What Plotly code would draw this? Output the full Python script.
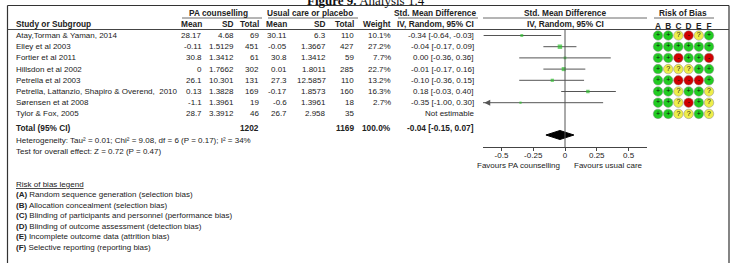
import plotly.graph_objects as go

W, H = 734, 263

# ---------------- data ----------------
studies = ["Atay,Torman & Yaman, 2014", "Elley et al 2003", "Fortier et al 2011",
           "Hillsdon et al 2002", "Petrella et al 2003",
           "Petrella, Lattanzio, Shapiro & Overend,  2010", "Sørensen et at 2008",
           "Tylor & Fox, 2005"]
pa_mean = ["28.17", "-0.11", "30.8", "0", "26.1", "0.13", "-1.1", "28.7"]
pa_sd = ["4.68", "1.5129", "1.3412", "1.7662", "10.301", "1.3828", "1.3961", "3.3912"]
pa_n = [69, 451, 61, 302, 131, 169, 19, 46]
uc_mean = ["30.11", "-0.05", "30.8", "0.01", "27.3", "-0.17", "-0.6", "26.7"]
uc_sd = ["6.3", "1.3667", "1.3412", "1.8011", "12.5857", "1.8573", "1.3961", "2.958"]
uc_n = [110, 427, 59, 285, 110, 160, 18, 35]
weight = [10.1, 27.2, 7.7, 22.7, 13.2, 16.3, 2.7, None]
smd = [-0.34, -0.04, 0.00, -0.01, -0.10, 0.18, -0.35, None]
ci_lo = [-0.64, -0.17, -0.36, -0.17, -0.36, -0.03, -1.00, None]
ci_hi = [-0.03, 0.09, 0.36, 0.16, 0.15, 0.40, 0.30, None]

total_pa_n = 1202
total_uc_n = 1169
total_weight = "100.0%"
total_smd, total_lo, total_hi = -0.04, -0.15, 0.07

heterogeneity = "Heterogeneity: Tau² = 0.01; Chi² = 9.08, df = 6 (P = 0.17); I² = 34%"
overall_test = "Test for overall effect: Z = 0.72 (P = 0.47)"

axis_ticks = [-0.5, -0.25, 0, 0.25, 0.5]
axis_ticklabels = ["-0.5", "-0.25", "0", "0.25", "0.5"]

bias_domains = ["A", "B", "C", "D", "E", "F"]
risk_of_bias = [
    ["+", "+", "?", "-", "?", "+"],
    ["+", "+", "+", "+", "+", "+"],
    ["+", "+", "-", "+", "+", "-"],
    ["+", "?", "?", "?", "+", "+"],
    ["+", "+", "-", "-", "-", "+"],
    ["+", "+", "?", "+", "+", "?"],
    ["+", "+", "?", "-", "+", "?"],
    ["+", "+", "?", "?", "+", "?"],
]
bias_legend = [
    ("A", "Random sequence generation (selection bias)"),
    ("B", "Allocation concealment (selection bias)"),
    ("C", "Blinding of participants and personnel (performance bias)"),
    ("D", "Blinding of outcome assessment (detection bias)"),
    ("E", "Incomplete outcome data (attrition bias)"),
    ("F", "Selective reporting (reporting bias)"),
]

# ---------------- layout helpers ----------------
FONT = "Liberation Sans, Arial, sans-serif"
TXT = "#222222"
ROW0, ROWH = 35.5, 11.2  # pixel centre of first row, row spacing


def px(x):
    return x / W


def py(y):
    return 1 - y / H


def row_of(pix):
    return (pix - ROW0) / ROWH


fig = go.Figure()
ann = []


def text(x, y, s, anchor="left", size=8, bold=False, yref="paper", color=TXT):
    ann.append(dict(x=px(x), y=y if yref == "y" else py(y), xref="paper", yref=yref,
                    text=f"<b>{s}</b>" if bold else s, showarrow=False,
                    xanchor=anchor, yanchor="middle",
                    font=dict(family=FONT, size=size, color=color)))


# ---------------- header ----------------
ann.append(dict(x=px(366), y=py(9.5), xref="paper", yref="paper",
                text="<b>Figure 9.</b> Analysis 1.4", showarrow=False,
                xanchor="center", yanchor="bottom",
                font=dict(family="Liberation Serif, Times New Roman, serif", size=13, color="#111")))

HB = 8.3
text(218, 13, "PA counselling", "center", HB, True)
text(310, 13, "Usual care or placebo", "center", HB, True)
text(435, 13, "Std. Mean Difference", "center", HB, True)
text(565, 13, "Std. Mean Difference", "center", HB, True)
text(683, 13, "Risk of Bias", "center", HB, True)
text(14, 24, "Study or Subgroup", "left", HB, True)
for xx, s in [(204, "Mean"), (236, "SD"), (261, "Total"), (289, "Mean"), (328, "SD"),
              (356, "Total"), (393, "Weight")]:
    text(xx, 24, s, "right", HB, True)
text(435, 24, "IV, Random, 95% CI", "center", HB, True)
text(565, 24, "IV, Random, 95% CI", "center", HB, True)

# ---------------- rows ----------------
for i, name in enumerate(studies):
    yv = i
    text(14, yv, name, yref="y")
    text(204, yv, pa_mean[i], "right", yref="y")
    text(236, yv, pa_sd[i], "right", yref="y")
    text(261, yv, str(pa_n[i]), "right", yref="y")
    text(289, yv, uc_mean[i], "right", yref="y")
    text(328, yv, uc_sd[i], "right", yref="y")
    text(356, yv, str(uc_n[i]), "right", yref="y")
    if weight[i] is not None:
        text(393, yv, f"{weight[i]:.1f}%", "right", yref="y")
        text(476, yv, f"{smd[i]:.2f} [{ci_lo[i]:.2f}, {ci_hi[i]:.2f}]", "right", yref="y")
    else:
        text(476, yv, "Not estimable", "right", yref="y")

total_row = row_of(128)
text(14, total_row, "Total (95% CI)", "left", HB, True, yref="y")
text(261, total_row, str(total_pa_n), "right", HB, True, yref="y")
text(356, total_row, str(total_uc_n), "right", HB, True, yref="y")
text(393, total_row, total_weight, "right", HB, True, yref="y")
text(476, total_row, f"{total_smd:.2f} [{total_lo:.2f}, {total_hi:.2f}]", "right", HB, True, yref="y")
text(14, 140, heterogeneity)
text(14, 151, overall_test)

text(562, 165, "Favours PA counselling", "right")
text(572, 165, "Favours usual care", "left")

text(14, 184, "<u>Risk of bias legend</u>")
for k, (letter, desc) in enumerate(bias_legend):
    text(14, 194.5 + 10.5 * k, f"<b>({letter})</b> {desc}")

# ---------------- forest plot ----------------
XMIN, XMAX = -0.645, 0.645
for i in range(len(studies)):
    if smd[i] is None:
        continue
    fig.add_trace(go.Scatter(x=[ci_lo[i], ci_hi[i]], y=[i, i], mode="lines",
                             line=dict(color="#555555", width=1), xaxis="x", yaxis="y",
                             hoverinfo="skip", showlegend=False))
    if ci_lo[i] < XMIN:
        fig.add_trace(go.Scatter(x=[XMIN + 0.01], y=[i], mode="markers",
                                 marker=dict(symbol="arrow-left", size=6, color="#555555"),
                                 cliponaxis=False, xaxis="x", yaxis="y",
                                 hoverinfo="skip", showlegend=False))

fig.add_trace(go.Scatter(
    x=[s for s in smd if s is not None],
    y=[i for i, s in enumerate(smd) if s is not None],
    mode="markers",
    marker=dict(symbol="square", color="#2fbf2f",
                size=[2 + 0.09 * w for w in weight if w is not None], line=dict(width=0)),
    xaxis="x", yaxis="y", showlegend=False))

drow = row_of(135)
dh = 4.5 / ROWH
fig.add_trace(go.Scatter(
    x=[total_lo, total_smd, total_hi, total_smd, total_lo],
    y=[drow, drow - dh, drow, drow + dh, drow],
    mode="lines", fill="toself", fillcolor="black", line=dict(color="black", width=1),
    xaxis="x", yaxis="y", showlegend=False))

# ---------------- risk of bias dots ----------------
col = {"+": "#22cc22", "?": "#eeee4a", "-": "#d00000"}
bx, by, bc, bt = [], [], [], []
for i, r in enumerate(risk_of_bias):
    for j, v in enumerate(r):
        bx.append(bias_domains[j]); by.append(i); bc.append(col[v]); bt.append(v)
fig.add_trace(go.Scatter(
    x=bx, y=by, mode="markers+text", text=bt, textposition="middle center",
    textfont=dict(family=FONT, size=7, color="#111"),
    marker=dict(symbol="circle", size=9.5, color=bc, line=dict(width=0.5, color="#888")),
    xaxis="x2", yaxis="y", showlegend=False, cliponaxis=False))

# ---------------- shapes ----------------
shapes = [
    dict(type="line", xref="paper", yref="paper", x0=px(7.5), x1=px(729), y0=py(5.5), y1=py(5.5),
         line=dict(color="#333", width=1)),
    dict(type="line", xref="paper", yref="paper", x0=px(7.5), x1=px(7.5), y0=py(5.5), y1=py(270),
         line=dict(color="#333", width=1.2)),
    dict(type="line", xref="paper", yref="paper", x0=px(729), x1=px(729), y0=py(5.5), y1=py(270),
         line=dict(color="#333", width=1.2)),
    dict(type="line", xref="paper", yref="paper", x0=px(7.5), x1=px(729), y0=py(29.5), y1=py(29.5),
         line=dict(color="#444", width=1)),
    dict(type="line", xref="x", yref="y", x0=0, x1=0, y0=row_of(30), y1=row_of(147),
         line=dict(color="#555", width=1)),
]
for x0, x1 in [(182, 262), (268, 358), (398, 478), (483, 647), (654, 714)]:
    shapes.append(dict(type="line", xref="paper", yref="paper", x0=px(x0), x1=px(x1),
                       y0=py(18), y1=py(18), line=dict(color="#444", width=0.8)))

fig.update_layout(
    width=W, height=H, margin=dict(l=0, r=0, t=0, b=0),
    paper_bgcolor="white", plot_bgcolor="rgba(0,0,0,0)",
    annotations=ann, shapes=shapes,
    xaxis=dict(domain=[px(483), px(647)], range=[XMIN, XMAX], anchor="free",
               position=py(147), showline=True, linecolor="#444", linewidth=1,
               ticks="outside", ticklen=3, tickcolor="#444", ticklabelstandoff=-3,
               tickvals=axis_ticks, ticktext=axis_ticklabels,
               tickfont=dict(family=FONT, size=8, color=TXT),
               showgrid=False, zeroline=False, fixedrange=True),
    xaxis2=dict(domain=[px(652.9), px(714.1)], range=[-0.5, 5.5], type="category",
                categoryorder="array", categoryarray=bias_domains,
                anchor="free", position=py(30.5), side="top",
                showline=False, ticks="", showgrid=False, zeroline=False,
                tickfont=dict(family=FONT, size=8.3, color=TXT), tickprefix="<b>", ticksuffix="</b>"),
    yaxis=dict(domain=[0, 1], range=[row_of(H), row_of(0)], visible=False, fixedrange=True),
    showlegend=False,
)

fig.write_html("out.html")
